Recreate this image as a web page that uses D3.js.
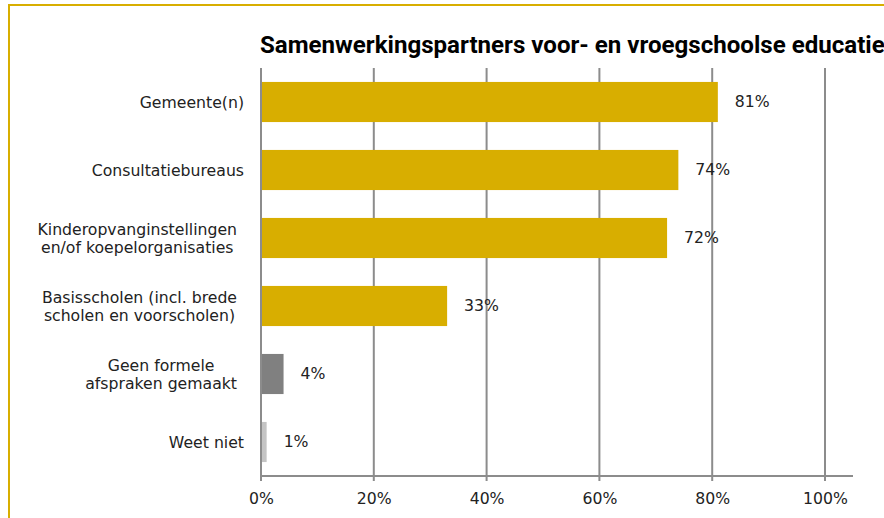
<!DOCTYPE html>
<html>
<head>
<meta charset="utf-8">
<script src="https://cdn.jsdelivr.net/npm/d3@7"></script>
<style>
  body { margin: 0; background: #fff; }
  svg { display: block; }
</style>
</head>
<body>
<script>
var width = 884;
var height = 518;

var categories = [
  ["Gemeente(n)"],
  ["Consultatiebureaus"],
  ["Kinderopvanginstellingen", "en/of koepelorganisaties"],
  ["Basisscholen (incl. brede", "scholen en voorscholen)"],
  ["Geen formele", "afspraken gemaakt"],
  ["Weet niet"]
];
var values = [81, 74, 72, 33, 4, 1];
var barColors = ["#d8ae00", "#d8ae00", "#d8ae00", "#d8ae00", "#808080", "#c4c4c4"];
var ticks = [0, 20, 40, 60, 80, 100];
var title = "Samenwerkingspartners voor- en vroegschoolse educatie";

var plotLeft = 261, plotRight = 825, plotTop = 68, plotBottom = 476;
var font = "'DejaVu Sans', Verdana, sans-serif";
var fontSize = 15.7;

var x = d3.scaleLinear()
  .domain([0, 100])
  .range([plotLeft, plotRight]);

var y = d3.scaleBand()
  .domain(d3.range(values.length))
  .range([plotTop, plotBottom])
  .paddingInner(0.41)
  .paddingOuter(0.205);

var svg = d3.select("body").append("svg")
  .attr("width", width)
  .attr("height", height);

// yellow frame
svg.append("rect")
  .attr("x", 9).attr("y", 5)
  .attr("width", width + 20).attr("height", height + 20)
  .attr("fill", "none")
  .attr("stroke", "#d8ae00")
  .attr("stroke-width", 2);

svg.append("text")
  .attr("x", 260)
  .attr("y", 53)
  .attr("font-family", "Roboto, sans-serif")
  .attr("font-weight", "bold")
  .attr("font-size", 24.1)
  .attr("fill", "#000")
  .text(title);

// gridlines
svg.append("g")
  .selectAll("line")
  .data(ticks)
  .enter().append("line")
  .attr("x1", function(d) { return x(d) })
  .attr("x2", function(d) { return x(d) })
  .attr("y1", plotTop)
  .attr("y2", plotBottom + 5)
  .attr("stroke", "#8c8c8c")
  .attr("stroke-width", 2);

// bars
svg.append("g")
  .selectAll("rect")
  .data(values)
  .enter().append("rect")
  .attr("x", x(0) + 1)
  .attr("y", function(d, i) { return y(i) })
  .attr("width", function(d) { return x(d) - x(0) - 1 })
  .attr("height", y.bandwidth())
  .attr("fill", function(d, i) { return barColors[i] });

// bottom axis
var axis = svg.append("g")
  .attr("transform", "translate(0," + plotBottom + ")")
  .call(d3.axisBottom(x).tickValues(ticks).tickSize(5).tickFormat(function(d) { return d + "%" }));
axis.select(".domain").remove();
axis.selectAll(".tick line").remove();
axis.selectAll("text")
  .attr("y", 17)
  .attr("font-family", font)
  .attr("font-size", fontSize)
  .attr("fill", "#222");

svg.append("line")
  .attr("x1", plotLeft - 1).attr("x2", 853)
  .attr("y1", plotBottom).attr("y2", plotBottom)
  .attr("stroke", "#8c8c8c")
  .attr("stroke-width", 2);

// value labels
svg.append("g")
  .selectAll("text")
  .data(values)
  .enter().append("text")
  .attr("x", function(d) { return x(d) + 17 })
  .attr("y", function(d, i) { return y(i) + y.bandwidth() / 2 })
  .attr("dy", "0.35em")
  .attr("font-family", font)
  .attr("font-size", fontSize)
  .attr("fill", "#222")
  .text(function(d) { return d + "%" });

// category labels: lines centred, block right-aligned next to the axis
var labels = svg.append("g")
  .selectAll("text")
  .data(categories)
  .enter().append("text")
  .attr("text-anchor", "middle")
  .attr("font-family", font)
  .attr("font-size", fontSize)
  .attr("fill", "#222");

labels.selectAll("tspan")
  .data(function(d) { return d })
  .enter().append("tspan")
  .attr("x", 0)
  .attr("y", function(d, j, nodes) { return (j - (nodes.length - 1) / 2) * 18 })
  .attr("dy", "0.35em")
  .text(function(d) { return d });

labels.attr("transform", function(d, i) {
  var w = d3.max(d3.select(this).selectAll("tspan").nodes(), function(n) { return n.getComputedTextLength() });
  var edge = d.length > 1 ? 237 : 244;
  return "translate(" + (edge - w / 2) + "," + (y(i) + y.bandwidth() / 2) + ")";
});
</script>
</body>
</html>
